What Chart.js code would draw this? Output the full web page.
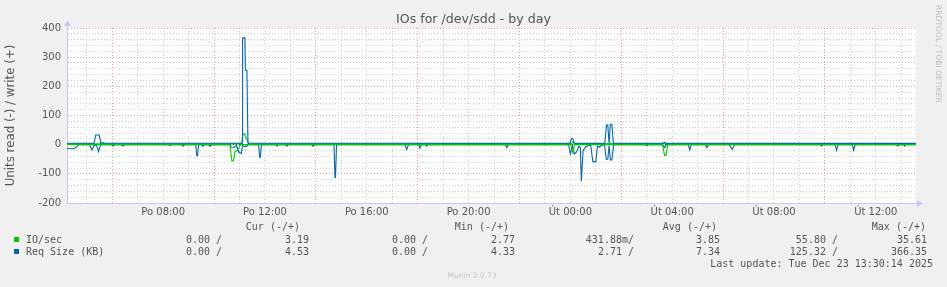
<!DOCTYPE html>
<html><head><meta charset="utf-8">
<script src="https://cdn.jsdelivr.net/npm/chart.js@4/dist/chart.umd.min.js"></script>
<style>
html,body{margin:0;padding:0;background:#f0f0f0;}
#wrap{position:relative;width:947px;height:287px;overflow:hidden;font-family:"DejaVu Sans",sans-serif;}
canvas{position:absolute;left:0;top:0;}
.t{position:absolute;white-space:pre;line-height:1;}
.mono{font-family:"DejaVu Sans Mono",monospace;font-size:10px;color:#555;}
</style></head><body>
<div id="wrap"><canvas id="c" width="947" height="287"></canvas></div>
<script>
// ---- data (time in hours since Po 00:00) ----
const ioWriteT = [4.22, 5.5, 5.62, 5.72, 11.08, 11.13, 11.2, 11.3, 11.36, 11.45, 17.5, 18.0, 24.05, 24.1, 24.16, 25.5, 25.55, 25.6, 27.65, 27.7, 27.75, 37.58];
const ioWriteV = [2.8, 2.8, 8, 2.8, 2.8, 36, 36, 16, 4, 2.8, 2.8, 3.5, 3.5, 10, 3.5, 3.5, 6, 3.5, 3.5, 6, 3.5, 3.2];

const ioReadT = [4.22, 10.62, 10.7, 10.76, 10.82, 10.92, 10.98, 11.05, 24.02, 24.1, 24.16, 27.62, 27.7, 27.76, 27.82, 37.58];
const ioReadV = [0, 0, -56, -56, -24, -20, -10, 0, 0, -28, 0, 0, -37, -37, 0, 0];

const reqWriteT = [4.22, 5.28, 5.35, 5.49, 5.55, 11.1, 11.12, 11.21, 11.23, 11.29, 11.33, 23.98, 24.05, 24.1, 24.15, 25.35, 25.42, 25.47, 25.52, 25.57, 25.63, 25.69, 27.62, 27.7, 27.76, 37.58];
const reqWriteV = [4.8, 4.8, 33, 33, 4.8, 4.8, 366, 366, 255, 255, 5, 4.8, 22, 20, 4.8, 4.8, 67, 67, 5, 70, 70, 4.8, 4.8, 8, 4.8, 4.5];

const reqReadT = [4.22, 4.48, 4.58, 4.68,
  5.1, 5.2, 5.28, 5.38, 5.46, 5.54,
  5.98, 6.03, 6.08, 6.36, 6.42, 6.5,
  8.22, 8.27, 8.32, 8.72, 8.78, 8.84,
  9.28, 9.32, 9.35, 9.39, 9.5, 9.56, 9.62, 9.78, 9.84, 9.9,
  10.62, 10.68, 10.8, 10.88, 10.98, 11.07, 11.12, 11.2, 11.28, 11.34,
  11.75, 11.79, 11.82, 11.86, 12.42, 12.47, 12.52, 12.8, 12.86, 12.92,
  13.83, 13.89, 13.95, 14.71, 14.75, 14.77, 14.81,
  17.5, 17.57, 17.64, 18.03, 18.09, 18.15, 18.3, 18.35, 18.4, 21.44, 21.5, 21.56,
  23.93, 24.0, 24.08, 24.16, 24.24, 24.33, 24.39, 24.43, 24.45, 24.5, 24.6, 24.68, 24.8,
  24.88, 25.0, 25.06, 25.14, 25.22, 25.34, 25.41, 25.47, 25.52, 25.57, 25.63, 25.7,
  26.95, 27.01, 27.07, 27.62, 27.7, 27.76, 28.63, 28.69, 28.75, 29.3, 29.36, 29.42,
  30.22, 30.28, 30.36, 30.42, 30.48, 33.82, 33.87, 33.92, 34.4, 34.46, 34.52,
  35.07, 35.13, 35.19, 36.82, 36.87, 36.92, 37.09, 37.14, 37.19, 37.58];
const reqReadV = [-13, -14, -9, 0,
  0, -18, -3, -2, -24, 0,
  0, -5, 0, 0, -5, 0,
  0, -4, 0, 0, -5, 0,
  0, -38, -38, 0, 0, -6, 0, 0, -6, 0,
  0, -8, -9, -3, -27, -30, -2, -6, -6, 0,
  0, -43, -43, 0, 0, -5, 0, 0, -5, 0,
  0, -6, 0, 0, -112, -112, 0,
  0, -16, 0, 0, -12, 0, 0, -5, 0, 0, -10, 0,
  0, -32, -5, -32, -25, -5, -10, -125, -125, -20, -8, -3, -2,
  -58, -58, -5, -8, -3, 0, -50, -50, -3, -52, -52, 0,
  0, -4, 0, 0, -10, 0, 0, -18, 0, 0, -10, 0,
  0, -5, -16, -5, 0, 0, -5, 0, 0, -19, 0,
  0, -19, 0, 0, -5, 0, 0, -5, 0, 0];

const tickHours = [8, 12, 16, 20, 24, 28, 32, 36];
const tickLabels = ['Po 08:00', 'Po 12:00', 'Po 16:00', 'Po 20:00', 'Út 00:00', 'Út 04:00', 'Út 08:00', 'Út 12:00'];

const legendNames = ['IO/sec', 'Req Size (KB)'];
const legendColors = ['#00cc00', '#0066b3'];
const curNeg = ['0.00 /', '0.00 /'];
const curPos = ['3.19', '4.53'];
const minNeg = ['0.00 /', '0.00 /'];
const minPos = ['2.77', '4.33'];
const avgNeg = ['431.88m/', '2.71 /'];
const avgPos = ['3.85', '7.34'];
const maxNeg = ['55.80 /', '125.32 /'];
const maxPos = ['35.61', '366.35'];
const colHeads = ['Cur (-/+)', 'Min (-/+)', 'Avg (-/+)', 'Max (-/+)'];

// ---- text ----
const wrap = document.getElementById('wrap');
function addText(txt, css, cls) {
  const d = document.createElement('div');
  d.className = 't ' + (cls || '');
  d.textContent = txt;
  Object.assign(d.style, css);
  wrap.appendChild(d);
  return d;
}
addText('IOs for /dev/sdd - by day', {left: '0px', width: '947px', textAlign: 'center', top: '12.5px', fontSize: '12.6px', color: '#555'});
addText('RRDTOOL / TOBI OETIKER', {left: '934px', top: '5px', fontSize: '7.6px', color: '#bdbdbd', writingMode: 'vertical-rl'});
addText('Munin 2.0.73', {left: '0px', width: '944px', textAlign: 'center', top: '272px', fontSize: '7.5px', color: '#c8c8c8'});

const headRights = [300, 509, 717, 926];
colHeads.forEach((h, i) => addText(h, {right: (947 - headRights[i]) + 'px', top: '222px'}, 'mono'));
const colRights = [222, 309, 428, 515, 634, 720, 838, 927];
const cols = [curNeg, curPos, minNeg, minPos, avgNeg, avgPos, maxNeg, maxPos];
legendNames.forEach((n, r) => {
  const top = 234.5 + r * 12.4;
  const sq = document.createElement('div');
  Object.assign(sq.style, {position: 'absolute', left: '14px', top: (237 + r * 12.4) + 'px', width: '5px', height: '5px', background: legendColors[r]});
  wrap.appendChild(sq);
  addText(n, {left: '26px', top: top + 'px'}, 'mono');
  cols.forEach((c, i) => addText(c[r], {right: (947 - colRights[i]) + 'px', top: top + 'px'}, 'mono'));
});
addText('Last update: Tue Dec 23 13:30:14 2025', {right: (947 - 933) + 'px', top: '259px'}, 'mono');

// ---- chart ----
const pts = (t, v) => t.map((x, i) => ({x: x, y: v[i]}));
const RED = '#eaa0a0', GRAY = '#d0d0d0', AXIS = '#c8c8f4';

const decor = {
  id: 'decor',
  beforeDraw(chart) {
    const {ctx, chartArea: a} = chart;
    ctx.save();
    ctx.fillStyle = '#ffffff';
    ctx.fillRect(a.left, a.top, a.right - a.left, a.bottom - a.top);
    ctx.restore();
  },
  afterDraw(chart) {
    const {ctx, chartArea: a} = chart;
    ctx.save();
    ctx.fillStyle = AXIS; ctx.strokeStyle = AXIS; ctx.lineWidth = 1;
    const lx = Math.round(a.left) + 0.5, by = Math.round(a.bottom) + 0.5;
    ctx.beginPath(); ctx.moveTo(lx, a.top); ctx.lineTo(lx, a.top - 3); ctx.stroke();
    ctx.beginPath(); ctx.moveTo(lx - 3.5, a.top - 2); ctx.lineTo(lx + 3.5, a.top - 2); ctx.lineTo(lx, a.top - 8); ctx.closePath(); ctx.fill();
    ctx.beginPath(); ctx.moveTo(a.right, by); ctx.lineTo(a.right + 3, by); ctx.stroke();
    ctx.beginPath(); ctx.moveTo(a.right + 1, by - 3.5); ctx.lineTo(a.right + 1, by + 3.5); ctx.lineTo(a.right + 7, by); ctx.closePath(); ctx.fill();
    ctx.restore();
  }
};

const lineDs = (label, data, color) => ({label, data, borderColor: color, backgroundColor: color, borderWidth: 1.1, pointRadius: 0, tension: 0, fill: false});

new Chart(document.getElementById('c'), {
  type: 'line',
  data: {
    datasets: [
      lineDs('Req Size write', pts(reqWriteT, reqWriteV), '#0066b3'),
      lineDs('IO/sec write', pts(ioWriteT, ioWriteV), '#00cc00'),
      lineDs('IO/sec read', pts(ioReadT, ioReadV), '#00cc00'),
      lineDs('Req Size read', pts(reqReadT, reqReadV), '#0066b3')
    ]
  },
  options: {
    responsive: false, animation: false, devicePixelRatio: 1,
    layout: {padding: {left: 0, right: 31, top: 28, bottom: 0}},
    plugins: {legend: {display: false}, tooltip: {enabled: false}, title: {display: false}},
    scales: {
      x: {
        type: 'linear', min: 4.22, max: 37.58,
        afterBuildTicks: s => { const t = []; for (let h = 5; h <= 37; h++) t.push({value: h}); s.ticks = t; },
        afterFit: s => { s.height = 84; },
        ticks: {autoSkip: false, maxRotation: 0, minRotation: 0, color: '#555', padding: 3,
          font: {family: 'DejaVu Sans', size: 10},
          callback: v => { const i = tickHours.indexOf(v); return i >= 0 ? tickLabels[i] : ''; }},
        grid: {drawTicks: false, lineWidth: 1,
          color: c => (c.tick && ((c.tick.value - 2) % 4 === 0)) ? RED : GRAY},
        border: {display: true, color: AXIS, width: 1, dash: [1, 2]}
      },
      y: {
        min: -200, max: 400,
        afterFit: s => { s.width = 67; },
        ticks: {stepSize: 20, autoSkip: false, color: '#555', padding: 6,
          font: {family: 'DejaVu Sans', size: 10},
          callback: v => (v % 100 === 0 ? String(v) : '')},
        grid: {drawTicks: false, lineWidth: 1,
          color: c => { const v = c.tick ? c.tick.value : 1; return v === 0 ? '#000000' : (v % 100 === 0 ? RED : GRAY); }},
        border: {display: true, color: AXIS, width: 1, dash: [1, 2]},
        title: {display: true, text: 'Units read (-) / write (+)', color: '#555',
          font: {family: 'DejaVu Sans', size: 11.8}, padding: {top: 4, bottom: 0}}
      }
    }
  },
  plugins: [decor]
});
</script>
</body></html>
